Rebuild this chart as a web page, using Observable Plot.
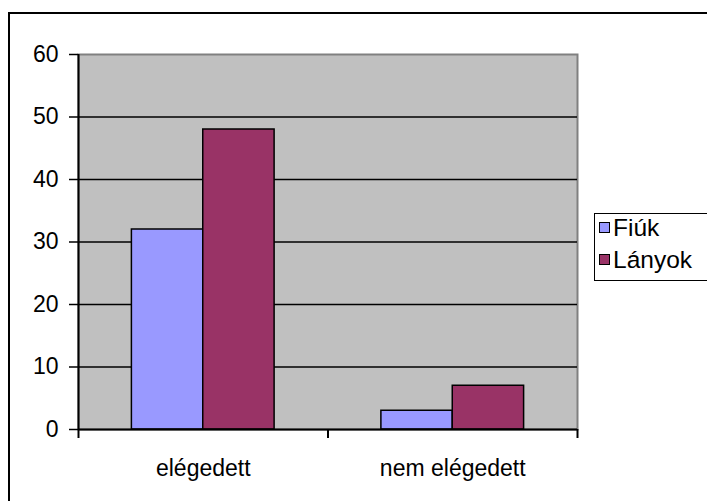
<!DOCTYPE html>
<html>
<head>
<meta charset="utf-8">
<script src="https://cdn.jsdelivr.net/npm/d3@7"></script>
<script src="https://cdn.jsdelivr.net/npm/@observablehq/plot@0.6"></script>
<style>
  html, body { margin: 0; padding: 0; background: #fff; }
  #wrap { position: relative; width: 707px; height: 501px; overflow: hidden; font-family: "Liberation Sans", Arial, sans-serif; }
  #outer { position: absolute; left: 8px; top: 12px; width: 900px; height: 700px; border-left: 2px solid #000; border-top: 2px solid #000; box-sizing: border-box; }
  #chart { position: absolute; left: 0; top: 0; }
  #chart svg text { font-size: 23px !important; font-family: "Liberation Sans", Arial, sans-serif !important; fill: #000; }
  #legend { position: absolute; left: 594px; top: 213px; width: 130px; height: 68px; border: 1.5px solid #000; background: #fff; box-sizing: border-box; font-size: 24.5px; color: #000; line-height: 27px; }
  .item { position: absolute; left: 4px; display: flex; align-items: center; }
  .sw { width: 9px; height: 9px; border: 1.5px solid #000; margin-right: 3px; }
</style>
</head>
<body>
<div id="wrap">
  <div id="outer"></div>
  <div id="chart"></div>
  <div id="legend"></div>
</div>
<script>
const categories = ["elégedett", "nem elégedett"];
const series = ["Fiúk", "Lányok"];
const fiuk = [32, 3];
const lanyok = [48, 7];
const colors = ["#9999FF", "#993366"];
const yTicks = [0, 10, 20, 30, 40, 50, 60];

const values = [fiuk, lanyok];
const data = [];
categories.forEach((c, ci) => {
  series.forEach((s, si) => {
    data.push({category: c, ci, series: s, si, value: values[si][ci]});
  });
});

const barW = 0.286;
const groupPad = (1 - barW * series.length) / 2;

const chart = Plot.plot({
  width: 707,
  height: 501,
  marginLeft: 78,
  marginRight: 130,
  marginTop: 54,
  marginBottom: 72,
  style: {fontFamily: "'Liberation Sans', Arial, sans-serif", fontSize: "23px", color: "#000", background: "transparent"},
  x: {domain: [0, categories.length]},
  y: {domain: [0, 60]},
  color: {domain: series, range: colors},
  marks: [
    Plot.frame({fill: "#C0C0C0", stroke: "#808080", strokeWidth: 2}),
    Plot.gridY(yTicks.filter(t => t > 0 && t < 60), {stroke: "#000", strokeOpacity: 1, strokeWidth: 1.5}),
    Plot.rectY(data, {
      x1: d => d.ci + groupPad + d.si * barW,
      x2: d => d.ci + groupPad + (d.si + 1) * barW,
      y1: 0,
      y2: "value",
      fill: "series",
      stroke: "#000",
      strokeWidth: 1.5
    }),
    Plot.axisY({ticks: yTicks, tickSize: 9, tickPadding: 11, strokeWidth: 1.5, label: null}),
    Plot.axisX({ticks: d3.range(categories.length + 1), tickFormat: () => "", tickSize: 9, strokeWidth: 2, label: null}),
    Plot.axisX({ticks: categories.map((c, i) => i + 0.5), tickFormat: (t) => categories[Math.floor(t)], tickSize: 0, tickPadding: 30, label: null}),
    Plot.ruleX([0], {stroke: "#000", strokeWidth: 2}),
    Plot.ruleY([0], {stroke: "#000", strokeWidth: 2})
  ]
});
document.getElementById("chart").appendChild(chart);

const legend = document.getElementById("legend");
series.forEach((s, i) => {
  const item = document.createElement("div");
  item.className = "item";
  item.style.top = (i === 0 ? 0 : 32) + "px";
  const sw = document.createElement("div");
  sw.className = "sw";
  sw.style.background = colors[i];
  const t = document.createElement("span");
  t.textContent = s;
  item.appendChild(sw);
  item.appendChild(t);
  legend.appendChild(item);
});
</script>
</body>
</html>
